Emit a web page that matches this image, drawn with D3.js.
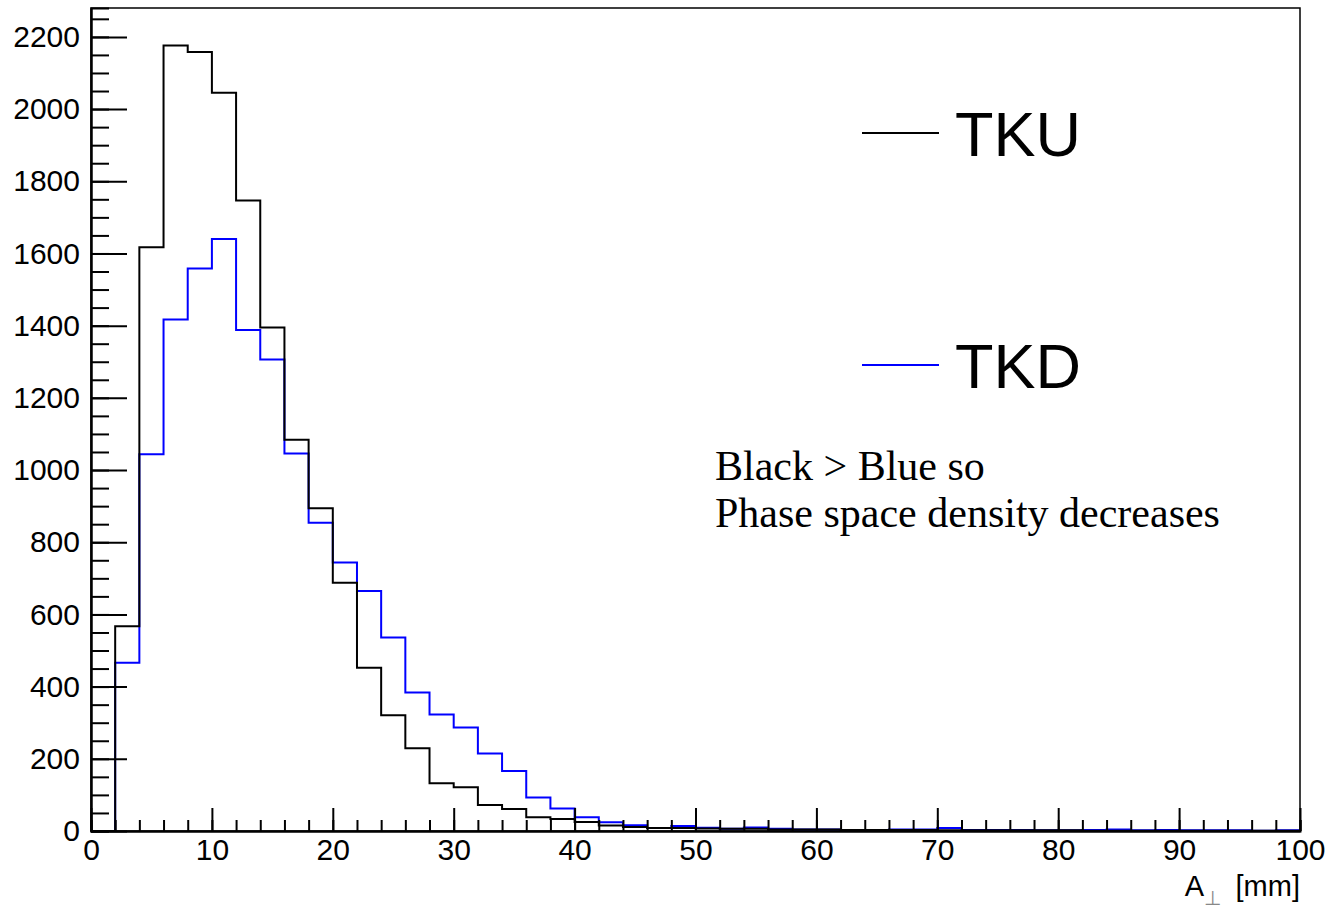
<!DOCTYPE html>
<html>
<head>
<meta charset="utf-8">
<script src="https://cdn.jsdelivr.net/npm/d3@7"></script>
<style>
  body { margin: 0; background: #fff; }
  svg { font-family: "Liberation Sans", Arial, sans-serif; }
</style>
</head>
<body>
<div id="chart"></div>
<script>
var svgWidth = 1330;
var svgHeight = 909;

var margin = { top: 8, right: 30, bottom: 78, left: 91 };
var width = svgWidth - margin.left - margin.right;
var height = svgHeight - margin.top - margin.bottom;

// bin edges: 50 bins of 2 mm from 0 to 100
var binLow = d3.range(0, 100, 2);

// TKU (black) counts per bin
var tkuCounts = [0, 567, 1617, 2176, 2158, 2045, 1747, 1395, 1084, 894,
    688, 452, 321, 229, 132, 121, 72, 61, 38, 33,
    25, 15, 11, 8, 8, 7, 6, 6, 4, 4,
    4, 3, 3, 3, 3, 2, 2, 2, 2, 2,
    2, 1, 1, 1, 1, 1, 1, 1, 1, 1];

// TKD (blue) counts per bin
var tkdCounts = [0, 466, 1044, 1417, 1558, 1640, 1388, 1306, 1046, 854,
    744, 665, 536, 384, 323, 287, 215, 166, 93, 62,
    38, 24, 16, 8, 14, 9, 6, 10, 6, 4,
    4, 3, 3, 4, 4, 8, 3, 3, 3, 2,
    2, 3, 4, 2, 3, 2, 2, 2, 1, 2];

var xMajorTicks = [0, 10, 20, 30, 40, 50, 60, 70, 80, 90, 100];
var yMajorTicks = [0, 200, 400, 600, 800, 1000, 1200, 1400, 1600, 1800, 2000, 2200];

var series = [
    { name: "TKD", counts: tkdCounts, color: "#0000ff" },
    { name: "TKU", counts: tkuCounts, color: "#000000" }
];

var svg = d3.select("#chart")
    .append("svg")
    .attr("width", svgWidth)
    .attr("height", svgHeight);

var chartGroup = svg.append("g")
    .attr("transform", `translate(${margin.left}, ${margin.top})`);

var xScale = d3.scaleLinear().domain([0, 100]).range([0, width]);
var yScale = d3.scaleLinear().domain([0, 2280]).range([height, 0]);

// frame
chartGroup.append("rect")
    .attr("x", 0).attr("y", 0)
    .attr("width", width).attr("height", height)
    .attr("fill", "none")
    .attr("stroke", "#000")
    .attr("stroke-width", 1.5);

// histograms as step outlines
var stepLine = d3.line()
    .x(d => xScale(d[0]))
    .y(d => yScale(d[1]))
    .curve(d3.curveStepAfter);

series.forEach(function (s) {
    var pts = binLow.map((b, i) => [b, s.counts[i]]);
    pts.push([100, s.counts[s.counts.length - 1]]);
    chartGroup.append("path")
        .datum(pts)
        .attr("d", stepLine)
        .attr("fill", "none")
        .attr("stroke", s.color)
        .attr("stroke-width", 2);
});

// x axis: minor ticks, then major with labels (ticks point inward)
var xMinor = chartGroup.append("g")
    .attr("transform", `translate(0, ${height})`)
    .call(d3.axisBottom(xScale).tickValues(d3.range(0, 101, 2)).tickSize(-11).tickFormat(""));
var xMajor = chartGroup.append("g")
    .attr("transform", `translate(0, ${height})`)
    .call(d3.axisBottom(xScale).tickValues(xMajorTicks).tickSize(-23).tickPadding(10)
        .tickSizeOuter(0).tickFormat(d3.format("d")));

// y axis
var yMinor = chartGroup.append("g")
    .call(d3.axisLeft(yScale).tickValues(d3.range(0, 2281, 50)).tickSize(-18).tickFormat(""));
var yMajor = chartGroup.append("g")
    .call(d3.axisLeft(yScale).tickValues(yMajorTicks).tickSize(-36).tickPadding(11)
        .tickSizeOuter(0).tickFormat(d3.format("d")));

[xMinor, xMajor, yMinor, yMajor].forEach(function (ax) {
    ax.select(".domain").attr("stroke-width", 2);
    ax.selectAll(".tick line").attr("stroke-width", 2);
    ax.selectAll("text")
        .style("font-size", "30px")
        .style("font-family", "'Liberation Sans', Arial, sans-serif")
        .attr("fill", "#000");
});
xMajor.selectAll("text").attr("dy", "0.71em").attr("y", 8);

// x axis title
var xTitle = svg.append("text")
    .attr("x", margin.left + width)
    .attr("y", 896)
    .attr("text-anchor", "end")
    .style("font-size", "29px");
xTitle.append("tspan").text("A");
xTitle.append("tspan").text("\u22A5").style("font-size", "20px").attr("dy", 9).attr("fill", "#888");
xTitle.append("tspan").text("\u2002[mm]").attr("dy", -9);

// legend
var legend = [
    { name: "TKU", color: "#000000", y: 133 },
    { name: "TKD", color: "#0000ff", y: 365 }
];
legend.forEach(function (l) {
    svg.append("line")
        .attr("x1", 862).attr("x2", 939)
        .attr("y1", l.y).attr("y2", l.y)
        .attr("stroke", l.color)
        .attr("stroke-width", 2);
    svg.append("text")
        .attr("x", 955)
        .attr("y", l.y + 23)
        .style("font-size", "63px")
        .text(l.name);
});

// annotation
var note = ["Black > Blue so", "Phase space density decreases"];
note.forEach(function (t, i) {
    svg.append("text")
        .attr("x", 715)
        .attr("y", 480 + i * 47)
        .style("font-family", "'Liberation Serif', 'Times New Roman', serif")
        .style("font-size", "42px")
        .text(t);
});
</script>
</body>
</html>
